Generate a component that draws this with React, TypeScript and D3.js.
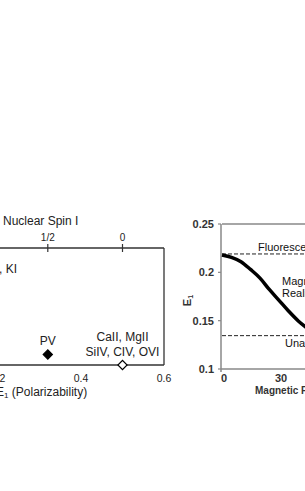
import * as d3 from "d3";

// left panel: polarizability vs nuclear spin
const e1Ticks = [0.2, 0.4, 0.6];
const spinLabels = ["1/2", "0"];
const spinAtE1 = [0.32, 0.5];
const ionE1 = [0.32, 0.5];
const ionLevel = [0.09, 0];
const ionFilled = [true, false];
const ionLabels = [["PV"], ["CaII, MgII", "SiIV, CIV, OVI"]];

// right panel: E1 vs magnetic field
const fieldG = [0, 5, 10, 15, 20, 25, 30, 35, 40, 45];
const e1Curve = [0.218, 0.2155, 0.211, 0.203, 0.194, 0.182, 0.171, 0.16, 0.15, 0.142];
const e1AxisTicks = [0.1, 0.15, 0.2, 0.25];
const fieldTicks = [0, 30];
const fluorescenceLevel = 0.219;
const unalignedLevel = 0.1345;

const font = "'Liberation Sans', Arial, sans-serif";

export default function App() {
  // left panel scales
  const xL = d3.scaleLinear().domain([0.2, 0.6]).range([-2, 164]);
  const yL = d3.scaleLinear().domain([0, 1]).range([365, 248]);

  // right panel scales
  const xR = d3.scaleLinear().domain([0, 30]).range([222, 279]);
  const yR = d3.scaleLinear().domain([0.1, 0.25]).range([369, 224]);

  const line = d3
    .line<number>()
    .x((_, i) => xR(fieldG[i]))
    .y((d) => yR(d))
    .curve(d3.curveMonotoneX);

  const diamond = d3.symbol(d3.symbolSquare, 42)();

  return (
    <svg
      width={305}
      height={491}
      style={{ position: "absolute", left: 0, top: 0, fontFamily: font }}
    >
      <rect width={305} height={491} fill="#fff" />

      {/* ---- left panel ---- */}
      <g>
        <text x={3} y={225} fontSize={12} fill="#222">
          Nuclear Spin I
        </text>
        <line x1={xL.range()[0]} x2={xL.range()[1]} y1={yL(1)} y2={yL(1)} stroke="#333" strokeWidth={1.3} />
        <line x1={xL.range()[0]} x2={xL.range()[1]} y1={yL(0)} y2={yL(0)} stroke="#333" strokeWidth={1.3} />
        <line x1={xL(0.6)} x2={xL(0.6)} y1={yL(1)} y2={yL(0)} stroke="#333" strokeWidth={1.3} />
        {spinLabels.map((s, i) => (
          <g key={s} transform={`translate(${xL(spinAtE1[i])},${yL(1)})`}>
            <line y1={-4} y2={4} stroke="#333" strokeWidth={1.2} />
            <text y={-7} textAnchor="middle" fontSize={10} fill="#222">
              {s}
            </text>
          </g>
        ))}
        {e1Ticks.map((t) => (
          <text key={t} x={xL(t)} y={382} textAnchor="middle" fontSize={10.5} fill="#222">
            {t.toFixed(1)}
          </text>
        ))}
        <text x={-4} y={396} fontSize={12} fill="#222">
          E<tspan fontSize={8} dy={2}>1</tspan>
          <tspan dy={-2}> (Polarizability)</tspan>
        </text>
        <text x={17} y={273} textAnchor="end" fontSize={12} fill="#222">
          NaI, KI
        </text>
        {ionE1.map((e, i) => {
          const cx = xL(e);
          const cy = yL(ionLevel[i]);
          const lines = ionLabels[i];
          return (
            <g key={i}>
              {lines.map((l, j) => (
                <text
                  key={l}
                  x={cx}
                  y={cy - 9 - (lines.length - 1 - j) * 15}
                  textAnchor="middle"
                  fontSize={12}
                  fill="#222"
                >
                  {l}
                </text>
              ))}
              <path
                d={diamond}
                transform={`translate(${cx},${cy}) rotate(45)`}
                fill={ionFilled[i] ? "#000" : "#fff"}
                stroke="#000"
                strokeWidth={1.2}
              />
            </g>
          );
        })}
      </g>

      {/* ---- right panel ---- */}
      <g>
        <line x1={xR(0)} x2={305} y1={yR(0.25)} y2={yR(0.25)} stroke="#888" strokeWidth={1.5} />
        <line x1={xR(0) - 1} x2={xR(0) - 1} y1={yR(0.25)} y2={yR(0.1) + 3} stroke="#888" strokeWidth={1.5} />
        <line x1={xR(0) - 1} x2={305} y1={yR(0.1)} y2={yR(0.1)} stroke="#888" strokeWidth={1.5} />
        {e1AxisTicks.map((t) => (
          <g key={t}>
            <line x1={xR(0) - 4} x2={xR(0) - 1} y1={yR(t)} y2={yR(t)} stroke="#888" strokeWidth={1.2} />
            <text
              x={xR(0) - 8}
              y={yR(t)}
              dy="0.35em"
              textAnchor="end"
              fontSize={11}
              fontWeight="bold"
              fill="#333"
            >
              {String(t)}
            </text>
          </g>
        ))}
        {fieldTicks.map((t) => (
          <text
            key={t}
            x={xR(t) + 2}
            y={382}
            textAnchor="middle"
            fontSize={11}
            fontWeight="bold"
            fill="#333"
          >
            {t}
          </text>
        ))}
        <text x={255} y={394} fontSize={10} fontWeight="bold" fill="#333">
          Magnetic Field (G)
        </text>
        <text
          transform={`translate(191,${yR(0.175) + 4}) rotate(-90)`}
          textAnchor="middle"
          fontSize={11}
          fontWeight="bold"
          fill="#333"
        >
          E<tspan fontSize={7} dy={2}>1</tspan>
        </text>

        <line
          x1={xR(0)}
          x2={305}
          y1={yR(fluorescenceLevel)}
          y2={yR(fluorescenceLevel)}
          stroke="#222"
          strokeWidth={1}
          strokeDasharray="4,2"
        />
        <line
          x1={xR(0)}
          x2={305}
          y1={yR(unalignedLevel)}
          y2={yR(unalignedLevel)}
          stroke="#222"
          strokeWidth={1}
          strokeDasharray="4,2"
        />
        <text x={258} y={yR(fluorescenceLevel) - 3} fontSize={11} fill="#111">
          Fluorescence
        </text>
        <text x={285} y={yR(unalignedLevel) + 11} fontSize={11} fill="#111">
          Unaligned
        </text>
        <text x={282} y={285} fontSize={11} fill="#111">
          Magnetic
        </text>
        <text x={282} y={297} fontSize={11} fill="#111">
          Realignment
        </text>

        <path d={line(e1Curve) ?? ""} fill="none" stroke="#000" strokeWidth={3.5} />
      </g>
    </svg>
  );
}
